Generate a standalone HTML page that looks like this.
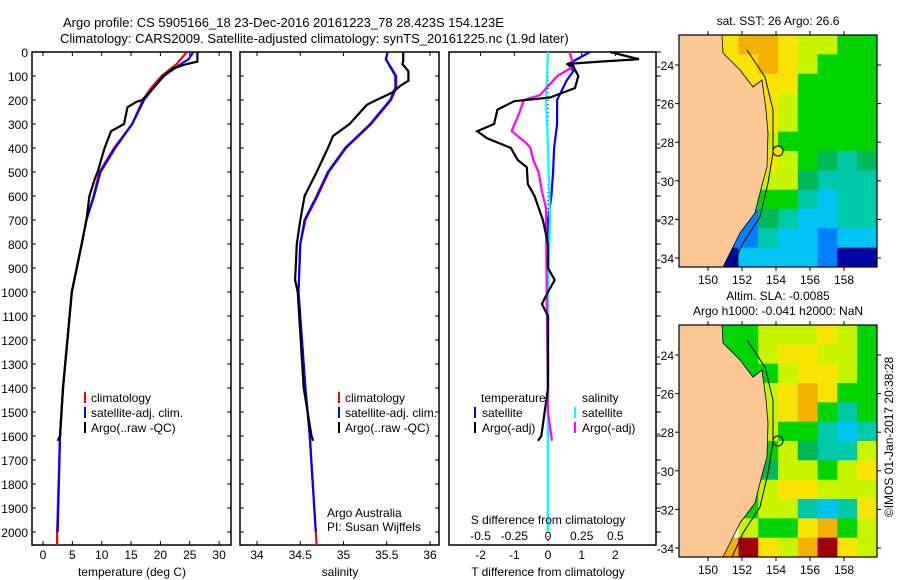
<!DOCTYPE html>
<html><head><meta charset="utf-8">
<style>
html,body{margin:0;padding:0;background:#fff;}
svg{display:block;font-family:"Liberation Sans",sans-serif;}
text{font-size:12px;fill:#000;}
</style></head>
<body>
<svg id="chart" width="900" height="580" viewBox="0 0 900 580" xmlns="http://www.w3.org/2000/svg">
<text x="63" y="27" style="font-size:13px">Argo profile: CS 5905166_18 23-Dec-2016 20161223_78 28.423S 154.123E</text>
<text x="60" y="43" style="font-size:13px">Climatology: CARS2009. Satellite-adjusted climatology: synTS_20161225.nc (1.9d later)</text>
<g id="maps"></g>
<g id="panels"></g>
</svg>
<script>
// ---------- data ----------
const depthTicks = [0,100,200,300,400,500,600,700,800,900,1000,1100,1200,1300,1400,1500,1600,1700,1800,1900,2000];
const tempTicks = [0,5,10,15,20,25,30];
const salTicks = [34,34.5,35,35.5,36];
const salTickLabels = ["34","34.5","35","35.5","36"];
const tdTicks = [-2,-1,0,1,2];
const sdTickLabels = ["-0.5","-0.25","0","0.25","0.5"];
const sdTicks = [-0.5,-0.25,0,0.25,0.5];

const tClimDepth = [0,50,100,150,200,300,400,500,600,700,800,1000,1400,1600,2000,2055];
const tClim      = [24.5,22.8,20.2,18.4,17.0,15.2,12.1,9.6,8.6,7.4,6.6,4.9,3.4,2.9,2.4,2.4];
const tSatDepth  = [0,30,50,100,150,200,300,400,500,600,700,800,1000,1400,1600,2000];
const tSat       = [25.6,24.8,23.5,20.6,18.8,17.2,15.2,12.3,9.8,8.7,7.4,6.6,4.9,3.4,2.9,2.5];
const tArgoDepth = [0,40,50,70,100,150,200,208,230,300,330,400,500,530,600,700,800,1000,1400,1600,1620];
const tArgo      = [26.3,26.3,24.5,22.0,20.5,18.8,16.9,15.9,14.4,13.8,11.6,10.5,9.3,8.8,7.9,7.4,6.6,4.9,3.4,2.9,2.5];

const sClimDepth = [0,30,100,150,200,300,400,500,600,700,800,1000,1400,1600,2000,2055];
const sClim      = [35.51,35.49,35.61,35.61,35.55,35.32,35.03,34.83,34.70,34.56,34.50,34.48,34.56,34.61,34.68,34.69];
const sSatDepth  = [0,30,100,150,200,300,400,500,600,700,800,1000,1400,1600,2000];
const sSat       = [35.51,35.49,35.60,35.60,35.54,35.31,35.02,34.82,34.69,34.55,34.50,34.48,34.56,34.61,34.68];
const sArgoDepth = [0,40,50,80,120,140,170,200,220,300,350,400,500,600,700,800,950,1000,1400,1600,1620];
const sArgo      = [35.69,35.69,35.68,35.75,35.75,35.66,35.56,35.38,35.27,35.07,34.88,34.82,34.69,34.55,34.50,34.46,34.44,34.47,34.54,34.63,34.65];

const dTSatDepth = [0,50,80,120,200,300,400,500,600,700,1000,1600,2000];
const dTSat      = [1.25,0.6,0.75,0.55,0.27,0.27,0.18,0.15,0.1,0.0,0.0,0.0,0.0];
const dTArgoDepth= [0,30,40,50,60,100,150,190,205,240,300,330,360,400,450,480,550,600,700,800,900,950,1000,1050,1100,1400,1600,1620];
const dTArgo     = [1.85,2.7,1.55,0.55,0.75,0.9,0.8,0.05,-1.0,-1.5,-1.6,-2.1,-1.8,-1.1,-0.9,-0.63,-0.6,-0.4,-0.15,0.0,0.0,0.2,0.0,-0.18,0.0,0.0,-0.2,-0.3];
const dSSatDepth = [0,200,400,700,1000,1500,2000];
const dSSat      = [0.0,-0.015,0.0,0.015,0.0,0.0,0.0];
const dSArgoDepth= [0,60,100,180,200,250,330,380,400,450,500,580,650,1000,1500,1620];
const dSArgo     = [0.16,0.19,0.07,-0.06,-0.18,-0.21,-0.27,-0.16,-0.13,-0.11,-0.07,-0.045,-0.015,-0.01,0.0,0.03];

// map colour grids (rows north->south, cols west->east)
const sstGrid = ["__YOOYLLGG","__YYOYLGGG","___YYYGGGG","___gYLGGGG","___gYLGGGG","___gLGGGGG","___TYLGgTg","___CLLgTTT","___CGGTCTT","___BgTCCTT","__BBTCCBCC","__NCCCCBNN"];
const slaGrid = ["__GGLLLYLG","__GGLYYLLG","___GGLYYLG","___GLYOYGG","___GLYOGTG","___GLGGTCT","___GGLgTTL","___GgLLGLY","___GLYYLLL","___GLLTCTY","___LGGYOGL","__ORYLORYL"];

// ---------- helpers ----------
const NS="http://www.w3.org/2000/svg";
const svg=document.getElementById('chart');
const panels=document.getElementById('panels');
const maps=document.getElementById('maps');
function mk(tag,attrs,parent){const e=document.createElementNS(NS,tag);for(const k in attrs)e.setAttribute(k,attrs[k]);(parent||svg).appendChild(e);return e;}
const TOP=52, BOT=545;
const yD = d => TOP + d*0.24;
const xT = t => 43 + t*5.87;
const xS = s => 257 + (s-34)*86.5;
const xDT = v => 548 + v*33.7;
const xDS = v => 548 + v*134.8;

function series(depths, vals, xf, color, name, w){
  const pts = depths.map((d,i)=>xf(vals[i]).toFixed(1)+','+yD(d).toFixed(1)).join(' ');
  const p = mk('polyline',{points:pts,fill:'none',stroke:color,'stroke-width':w||2.2,'stroke-linejoin':'miter'},panels);
  
  
}
function frame(x0,x1,name){
  const r = mk('rect',{x:x0,y:TOP,width:x1-x0,height:BOT-TOP,fill:'none',stroke:'#000','stroke-width':1.5},panels);
  
  
}
function txt(x,y,s,name,anchor,extra){
  const t = mk('text',Object.assign({x:x,y:y,'text-anchor':anchor||'start'},extra||{}),panels);
  t.textContent=s;
  
  
  return t;
}

// ---------- panel 1: temperature ----------
frame(32,231,'temperature-panel');
depthTicks.forEach(d=>{
  mk('line',{x1:32,x2:36,y1:yD(d),y2:yD(d),stroke:'#000'},panels);
  mk('line',{x1:227,x2:231,y1:yD(d),y2:yD(d),stroke:'#000'},panels);
  txt(28,yD(d)+5,String(d),'depth-tick-label','end');
});
tempTicks.forEach(t=>{
  mk('line',{x1:xT(t),x2:xT(t),y1:TOP,y2:TOP+4,stroke:'#000'},panels);
  mk('line',{x1:xT(t),x2:xT(t),y1:BOT-4,y2:BOT,stroke:'#000'},panels);
  txt(xT(t),559,String(t),'temperature-tick-label','middle');
});
txt(132,576,'temperature (deg C)','temperature-axis-title','middle');
series(tClimDepth,tClim,xT,'#ff0000','temperature-climatology-line');
series(tSatDepth,tSat,xT,'#0000ff','temperature-satellite-line');
series(tArgoDepth,tArgo,xT,'#000000','temperature-argo-line');
[['#ff0000','climatology'],['#0000ff','satellite-adj. clim.'],['#000000','Argo(..raw -QC)']].forEach((e,i)=>{
  mk('line',{x1:85,x2:85,y1:392+i*15,y2:403+i*15,stroke:e[0],'stroke-width':2},panels);
  txt(91,402+i*15,e[1],'temperature-legend-entry');
});

// ---------- panel 2: salinity ----------
frame(240,439,'salinity-panel');
depthTicks.forEach(d=>{
  mk('line',{x1:240,x2:244,y1:yD(d),y2:yD(d),stroke:'#000'},panels);
  mk('line',{x1:435,x2:439,y1:yD(d),y2:yD(d),stroke:'#000'},panels);
});
salTicks.forEach((s,i)=>{
  mk('line',{x1:xS(s),x2:xS(s),y1:TOP,y2:TOP+4,stroke:'#000'},panels);
  mk('line',{x1:xS(s),x2:xS(s),y1:BOT-4,y2:BOT,stroke:'#000'},panels);
  txt(xS(s),559,salTickLabels[i],'salinity-tick-label','middle');
});
txt(340,576,'salinity','salinity-axis-title','middle');
series(sClimDepth,sClim,xS,'#ff0000','salinity-climatology-line');
series(sSatDepth,sSat,xS,'#0000ff','salinity-satellite-line');
series(sArgoDepth,sArgo,xS,'#000000','salinity-argo-line');
[['#ff0000','climatology'],['#0000ff','satellite-adj. clim.'],['#000000','Argo(..raw -QC)']].forEach((e,i)=>{
  mk('line',{x1:339,x2:339,y1:392+i*15,y2:403+i*15,stroke:e[0],'stroke-width':2},panels);
  txt(345,402+i*15,e[1],'salinity-legend-entry');
});
txt(327,517,'Argo Australia','credit-argo-australia');
txt(327,531,'PI: Susan Wijffels','credit-pi');

// ---------- panel 3: differences ----------
frame(449,656,'difference-panel');
depthTicks.forEach(d=>{
  mk('line',{x1:656,x2:661,y1:yD(d),y2:yD(d),stroke:'#000'},panels);
});
tdTicks.forEach(v=>{
  mk('line',{x1:xDT(v),x2:xDT(v),y1:TOP,y2:TOP+4,stroke:'#000'},panels);
  txt(xDT(v),559,String(v),'t-diff-tick-label','middle');
});
sdTicks.forEach((v,i)=>{
  txt(xDS(v),540,sdTickLabels[i],'s-diff-tick-label','middle');
});
mk('line',{x1:548,x2:548,y1:TOP,y2:BOT,stroke:'#000','stroke-dasharray':'1,3'},panels);
series(dTSatDepth,dTSat,xDT,'#0000ff','t-diff-satellite-line');
series(dSSatDepth,dSSat,xDS,'#00ffff','s-diff-satellite-line');
series(dSArgoDepth,dSArgo,xDS,'#ff00ff','s-diff-argo-line');
series(dTArgoDepth,dTArgo,xDT,'#000000','t-diff-argo-line');
txt(481,402,'temperature','diff-legend-temperature-header');
txt(582,402,'salinity','diff-legend-salinity-header');
[['#0000ff','satellite',475,482],['#000000','Argo(-adj)',475,482],['#00ffff','satellite',575,582],['#ff00ff','Argo(-adj)',575,582]].forEach((e,i)=>{
  const r=i%2;
  mk('line',{x1:e[2],x2:e[2],y1:407+r*15,y2:418+r*15,stroke:e[0],'stroke-width':2},panels);
  txt(e[3],417+r*15,e[1],'diff-legend-entry');
});
txt(548,524,'S difference from climatology','s-diff-axis-title','middle');
txt(548,576,'T difference from climatology','t-diff-axis-title','middle');

// ---------- maps ----------
const colors={Y:'#f8e400',O:'#f4b000',L:'#c8f400',G:'#00d400',g:'#00b858',T:'#00c8a8',C:'#00c4f4',B:'#0080ff',N:'#0008a0',R:'#a00000'};
const coast=[[679,35],[722,35],[723,53],[740,70],[753,87],[762,80],[766,110],[768,133],[767,167],[762,185],[760,193],[755,213],[740,233],[730,253],[723,267],[679,267]];
const iso=[[747,50],[765,77],[773,110],[773,153],[768,183],[760,217],[743,243],[732,267]];
function drawMap(top,grid,title,name,circleFill){
  const g=mk('g',{},maps);
  
  
  const L=679,R=877,W=R-L,H=232,cw=W/10,ch=H/12,dy=top-35;
  grid.forEach((row,ri)=>{[...row].forEach((c,ci)=>{
    if(c==='_')return;
    mk('rect',{x:L+ci*cw,y:top+ri*ch,width:cw+0.5,height:ch+0.5,fill:colors[c]},g);
  });});
  mk('polygon',{points:coast.map(p=>p[0]+','+(p[1]+dy)).join(' '),fill:'#fcc896',stroke:'#000','stroke-width':0.8},g);
  mk('polyline',{points:iso.map(p=>p[0]+','+(p[1]+dy)).join(' '),fill:'none',stroke:'#000','stroke-width':1},g);
  mk('circle',{cx:778,cy:151+dy,r:5,fill:circleFill,stroke:'#000','stroke-width':1},g);
  mk('rect',{x:L,y:top,width:W,height:H,fill:'none',stroke:'#000','stroke-width':1.2},g);
  [-24,-26,-28,-30,-32,-34].forEach(lat=>{
    const y=65+dy+(-24-lat)*19.3;
    mk('line',{x1:L-4,x2:L,y1:y,y2:y,stroke:'#000'},g);
    mk('line',{x1:R,x2:R+4,y1:y,y2:y,stroke:'#000'},g);
    const t=mk('text',{x:L-5,y:y+5,'text-anchor':'end'},g);t.textContent=String(lat);
    
    
  });
  [150,152,154,156,158].forEach(lon=>{
    const x=708+(lon-150)*17;
    mk('line',{x1:x,x2:x,y1:top-4,y2:top,stroke:'#000'},g);
    mk('line',{x1:x,x2:x,y1:top+H,y2:top+H+4,stroke:'#000'},g);
    const t=mk('text',{x:x,y:top+H+17,'text-anchor':'middle'},g);t.textContent=String(lon);
    
    
  });
  title.forEach((s,i)=>{
    const t=mk('text',{x:778,y:top-25+i*15+(title.length===1?15:0),'text-anchor':'middle'},g);t.textContent=s;
    
    
  });
}
drawMap(35,sstGrid,['sat. SST: 26 Argo: 26.6'],'sst-map','#f8e400');
drawMap(325,slaGrid,['Altim. SLA: -0.0085','Argo h1000: -0.041 h2000: NaN'],'sla-map','none');
const cr=mk('text',{x:0,y:0,'text-anchor':'middle',transform:'translate(893,437) rotate(-90)'},maps);
cr.textContent='©IMOS 01-Jan-2017 20:38:28';


</script>
</body></html>
